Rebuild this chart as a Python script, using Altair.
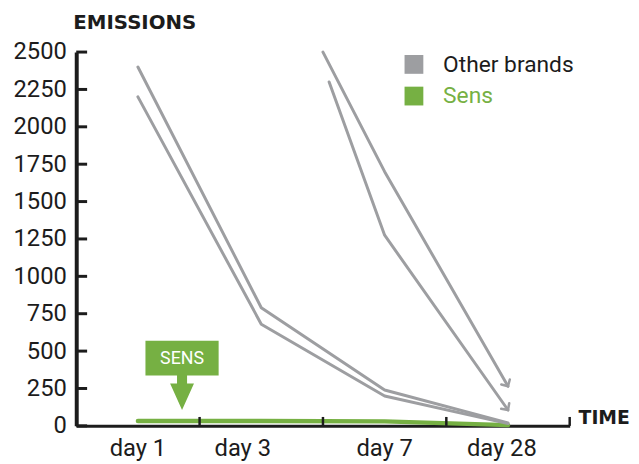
import altair as alt
import pandas as pd

GRAY = "#9d9ea1"
GREEN = "#76b043"
INK = "#1c1c1c"

# ---- data (x in time-slot units: four slots of width 1, points at slot centres)
day_labels = ["day 1", "day 3", "day 7", "day 28"]
day_label_pos = [0.5, 1.35, 2.5, 3.45]
x_tick_pos = [1, 2, 3, 4]
y_ticks = [0, 250, 500, 750, 1000, 1250, 1500, 1750, 2000, 2250, 2500]

brand_a_x = [0.5, 1.5, 2.5, 3.5]
brand_a_y = [2400, 790, 240, 20]
brand_b_x = [0.5, 1.5, 2.5, 3.5]
brand_b_y = [2200, 680, 200, 15]
brand_c_x = [2.0, 2.5, 3.5]
brand_c_y = [2500, 1700, 265]
brand_d_x = [2.05, 2.5, 3.5]
brand_d_y = [2300, 1275, 106]
sens_x = [0.5, 1.5, 2.5, 3.5]
sens_y = [32, 32, 30, 5]

legend_labels = ["Other brands", "Sens"]

rows = []
for name, xs, ys in [("a", brand_a_x, brand_a_y), ("b", brand_b_x, brand_b_y),
                     ("c", brand_c_x, brand_c_y), ("d", brand_d_x, brand_d_y)]:
    for i, (xv, yv) in enumerate(zip(xs, ys)):
        rows.append({"series": name, "i": i, "x": xv, "y": yv})
others = pd.DataFrame(rows)
sens = pd.DataFrame({"x": sens_x, "y": sens_y, "i": range(len(sens_x))})
end_c = pd.DataFrame({"x": [brand_c_x[-1]], "y": [brand_c_y[-1]]})
end_d = pd.DataFrame({"x": [brand_d_x[-1]], "y": [brand_d_y[-1]]})
days = pd.DataFrame({"label": day_labels, "x": day_label_pos})
xt = pd.DataFrame({"x": x_tick_pos})
yt = pd.DataFrame({"y": y_ticks})

xscale = alt.Scale(domain=[0, 4], nice=False, zero=False)
yscale = alt.Scale(domain=[0, 2500], nice=False)

X = alt.X("x:Q", scale=xscale,
          axis=alt.Axis(labels=False, ticks=False, grid=False, title=None,
                        domainColor=INK, domainWidth=3))
Y = alt.Y("y:Q", scale=yscale,
          axis=alt.Axis(values=y_ticks, tickCount=11, format="d", labelOverlap=False,
                        ticks=False, grid=False, title=None,
                        labelFont="Roboto", labelFontSize=24, labelColor=INK,
                        labelPadding=10, domainColor=INK, domainWidth=4))

sens_line = alt.Chart(sens).mark_line(
    color=GREEN, strokeWidth=4.5, strokeCap="round", strokeJoin="round"
).encode(x=X, y=Y, order="i:Q")

other_lines = alt.Chart(others).mark_line(
    color=GRAY, strokeWidth=3, strokeCap="round", strokeJoin="round"
).encode(x=X, y=Y, detail="series:N", order="i:Q")

chev = "M-0.7,-0.7L0,0L0.7,-0.7"
head_c = alt.Chart(end_c).mark_point(
    shape=chev, filled=False, stroke=GRAY, strokeWidth=2.5, size=200,
    angle=330, opacity=1, strokeCap="round"
).encode(x=X, y=Y)
head_d = alt.Chart(end_d).mark_point(
    shape=chev, filled=False, stroke=GRAY, strokeWidth=2.5, size=200,
    angle=325, opacity=1, strokeCap="round"
).encode(x=X, y=Y)

y_tick_rules = alt.Chart(yt).mark_rule(color=INK, strokeWidth=3).encode(
    y=Y, x=alt.value(0), x2=alt.value(11))
x_tick_rules = alt.Chart(xt).mark_rule(color=INK, strokeWidth=2.5).encode(
    x=X, y=alt.value(378), y2=alt.value(369))

day_text = alt.Chart(days).mark_text(
    font="Roboto", fontSize=24, color=INK, baseline="alphabetic", align="center"
).encode(x=X, y=alt.value(408), text="label:N")

one = pd.DataFrame({"k": [0]})
box = alt.Chart(one).mark_rect(color=GREEN).encode(
    x=alt.value(70), x2=alt.value(144), y=alt.value(292), y2=alt.value(327))
arrow = alt.Chart(one).mark_point(
    shape="M-0.29,-1.05L0.29,-1.05L0.29,-0.54L0.69,-0.54L0,1L-0.69,-0.54L-0.29,-0.54Z",
    filled=True, color=GREEN, size=1225, opacity=1
).encode(x=alt.value(107), y=alt.value(344.5))
box_text = alt.Chart(one).mark_text(
    text="SENS", font="Roboto", fontSize=18, color="white",
    baseline="middle", align="center"
).encode(x=alt.value(107), y=alt.value(310))

title_y = alt.Chart(one).mark_text(
    text="EMISSIONS", font="DejaVu Sans", fontWeight="bold", fontSize=20,
    color=INK, align="left", baseline="middle"
).encode(x=alt.value(-3), y=alt.value(-29))
title_x = alt.Chart(one).mark_text(
    text="TIME", font="DejaVu Sans", fontWeight="bold", fontSize=19,
    color=INK, align="left", baseline="middle"
).encode(x=alt.value(508), y=alt.value(370.5))

leg_sq_other = alt.Chart(one).mark_square(color=GRAY, size=361, opacity=1).encode(
    x=alt.value(341.5), y=alt.value(12.5))
leg_sq_sens = alt.Chart(one).mark_square(color=GREEN, size=361, opacity=1).encode(
    x=alt.value(341.5), y=alt.value(44.5))
leg_tx_other = alt.Chart(one).mark_text(
    text=legend_labels[0], font="Roboto", fontSize=23, color=INK,
    align="left", baseline="middle").encode(x=alt.value(371), y=alt.value(13))
leg_tx_sens = alt.Chart(one).mark_text(
    text=legend_labels[1], font="Roboto", fontSize=23, color=GREEN,
    align="left", baseline="middle").encode(x=alt.value(371), y=alt.value(45))

chart = alt.layer(
    sens_line, other_lines, head_c, head_d, y_tick_rules, x_tick_rules,
    day_text, box, arrow, box_text, title_y, title_x,
    leg_sq_other, leg_sq_sens, leg_tx_other, leg_tx_sens
).properties(
    width=499, height=378,
    padding={"left": 69, "top": 42, "right": 62, "bottom": 34},
    autosize=alt.AutoSizeParams(type="none"),
    background="white"
).configure_view(stroke=None)

chart.save("out.html", embed_options={"renderer": "svg", "actions": False})
